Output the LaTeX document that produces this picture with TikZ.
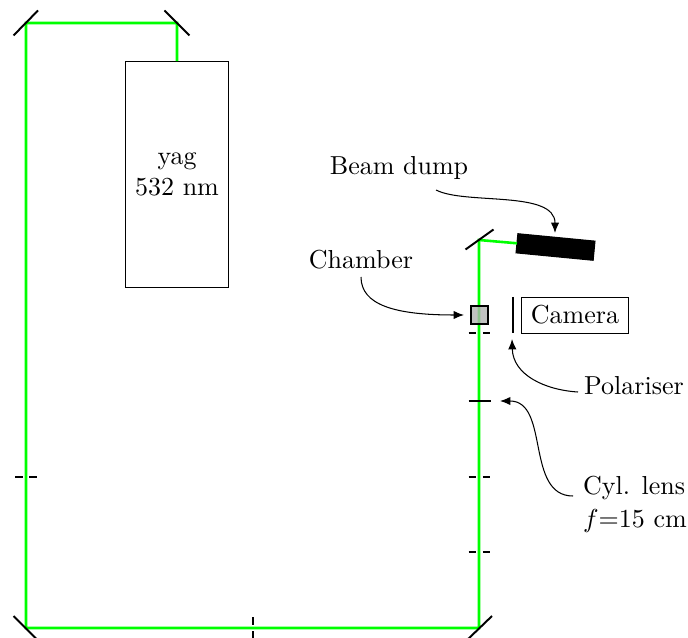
\documentclass[tikz,border=0pt]{standalone}
\usetikzlibrary{arrows.meta}
\tikzset{
  beam/.style={draw={rgb,1:red,0;green,1;blue,0},line width=1.0pt,line join=miter},
  mirror/.style={draw=black,line width=0.75pt},
  lens/.style={draw=black,line width=0.75pt},
  dashlens/.style={draw=black,line width=0.75pt,dash pattern=on 3pt off 2.5pt on 3pt},
  lab/.style={inner sep=0pt,align=center},
  callout/.style={draw=black,line width=0.4pt,-{Latex[length=4pt,width=3.2pt]}},
  box/.style={draw=black,line width=0.3pt,inner sep=0pt,outer sep=0pt,align=center}
}
\begin{document}
\begin{tikzpicture}[x=0.3846pt,y=-0.3846pt]
\useasboundingbox (0,0) rectangle (688,637);
\clip (0,0) rectangle (688,637);
% beam corners
\coordinate (mTR) at (177,23);
\coordinate (mTL) at (26,23);
\coordinate (mBL) at (26,628);
\coordinate (mBR) at (479,628);
\coordinate (mU) at (479,240);
\node[box,minimum width=39.8pt,minimum height=87.2pt] (yag) at (177,174.4) {};
\node[lab] (yagt) at (177,174.4) {yag\\[0.3pt]532 nm};
\node[draw=black,fill=black,minimum width=29.8pt,minimum height=7.4pt,inner sep=0pt,outer sep=0pt,rotate=-5.5] (dump) at (555.5,247) {};
\draw[beam] (yag.north -| mTR) -- (mTR) -- (mTL) -- (mBL) -- (mBR) -- (mU) -- (dump.west);
% mirrors
\draw[mirror] (13.5,35.5) -- (38,10.5);
\draw[mirror] (164.5,10.5) -- (189.5,35.5);
\draw[mirror] (13.5,616) -- (38.5,641);
\draw[mirror] (466,641) -- (492,616);
\draw[mirror] (465.5,249.5) -- (493.5,229.5);
% lenses
\draw[dashlens] (468.5,333) -- (490,333);
\draw[lens] (468.5,401) -- (491,401);
\draw[dashlens] (468.5,477) -- (490,477);
\draw[dashlens] (468.5,552) -- (490,552);
\draw[dashlens] (15,477) -- (37,477);
\draw[dashlens] (253,617) -- (253,639);
% chamber, polariser, camera
\node[draw=black,fill=black!30,fill opacity=0.8,draw opacity=1,line width=0.75pt,minimum width=6.8pt,minimum height=6.8pt,inner sep=0pt,outer sep=0pt] (chamber) at (479.5,315) {};
\draw[lens] (512.7,297) -- (512.7,333);
\node[box,minimum width=41.4pt,minimum height=13.8pt] (camera) at (575,315) {Camera};
% labels
\node[lab] (ldump) at (399,168) {Beam dump};
\node[lab] (lchamber) at (361,260) {Chamber};
\node[lab] (lpol) at (634,386) {Polariser};
\node[lab,align=left] (lcyl) at (635,504) {Cyl. lens\\[0.6pt]$f$=15 cm};
% callout ends
\coordinate (tdump) at (555,233);
\coordinate (tchamber) at (464,315);
\coordinate (tpol) at (512,339);
\coordinate (tcyl) at (500,401);
\coordinate (sdump) at (436,190);
\coordinate (schamber) at (361,277);
\coordinate (spol) at (578,392);
\coordinate (scyl) at (573,496);
\draw[callout] (sdump) .. controls (465,205) and (555,190) .. (tdump);
\draw[callout] (schamber) .. controls (361,305) and (395,315) .. (tchamber);
\draw[callout] (spol) .. controls (545,390) and (513,375) .. (tpol);
\draw[callout] (scyl) .. controls (525,496) and (550,401) .. (tcyl);
\end{tikzpicture}
\end{document}
